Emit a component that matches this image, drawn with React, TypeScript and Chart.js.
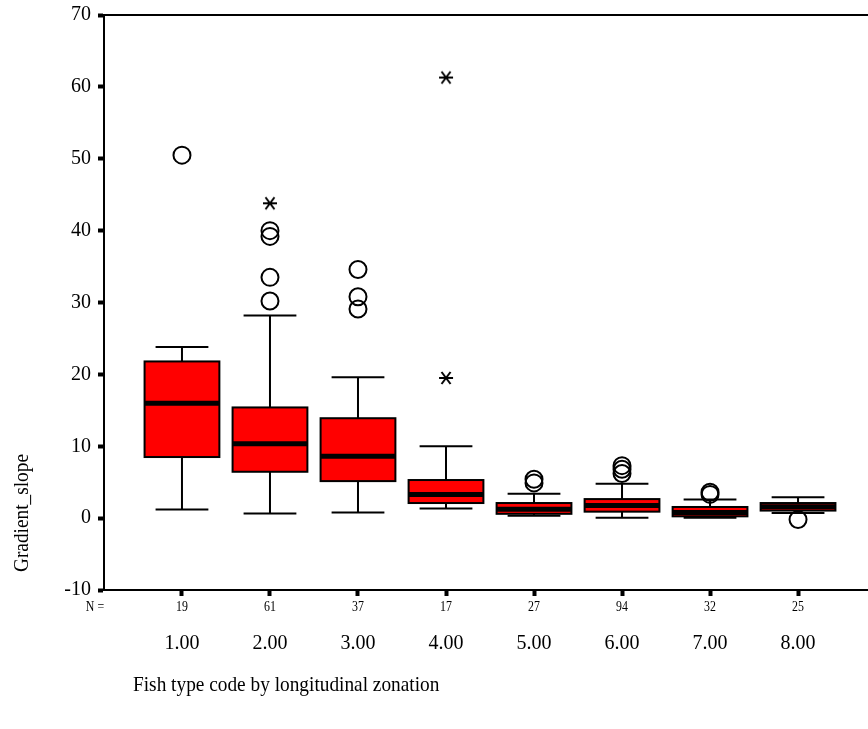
import React, { useEffect, useRef } from "react";
import { Chart, registerables } from "chart.js";

Chart.register(...registerables);

const categories = ["1.00", "2.00", "3.00", "4.00", "5.00", "6.00", "7.00", "8.00"];
const counts = [19, 61, 37, 17, 27, 94, 32, 25];
const whiskerLow = [1.2, 0.65, 0.8, 1.35, 0.33, 0.05, 0.05, 0.7];
const q1 = [8.5, 6.45, 5.15, 2.1, 0.6, 0.9, 0.25, 1.05];
const medians = [16.0, 10.35, 8.6, 3.3, 1.25, 1.74, 0.77, 1.6];
const q3 = [21.8, 15.4, 13.9, 5.3, 2.1, 2.65, 1.55, 2.1];
const whiskerHigh = [23.8, 28.2, 19.6, 10.0, 3.4, 4.8, 2.6, 2.9];

// outliers: [category index (1-based), value]
const circleOutliers: [number, number][] = [
  [1, 50.5],
  [2, 30.2], [2, 33.5], [2, 39.2], [2, 40.0],
  [3, 29.1], [3, 30.8], [3, 34.6],
  [5, 4.9], [5, 5.4],
  [6, 6.2], [6, 6.8], [6, 7.3],
  [7, 3.3], [7, 3.6],
  [8, -0.2],
];
const extremeOutliers: [number, number][] = [
  [2, 43.8],
  [4, 61.3], [4, 19.5],
];

const yTicks = [-10, 0, 10, 20, 30, 40, 50, 60, 70];
const xTitle = "Fish type code by longitudinal zonation";
const yTitle = "Gradient_slope";

const FONT = "'Liberation Serif', 'Times New Roman', serif";

function makeAsterisk(): HTMLCanvasElement {
  const c = document.createElement("canvas");
  c.width = 16;
  c.height = 16;
  const g = c.getContext("2d")!;
  g.strokeStyle = "#000";
  g.lineWidth = 2;
  g.beginPath();
  g.moveTo(1, 8);
  g.lineTo(15, 8);
  g.moveTo(3.5, 2);
  g.lineTo(12.5, 14);
  g.moveTo(12.5, 2);
  g.lineTo(3.5, 14);
  g.stroke();
  return c;
}

const boxPlugin = {
  id: "boxes",
  beforeDatasetsDraw(chart: any) {
    const { ctx, scales } = chart;
    const x = scales.x;
    const y = scales.y;
    ctx.save();
    for (let i = 0; i < categories.length; i++) {
      const c = i + 1;
      const xc = x.getPixelForValue(c);
      const xl = x.getPixelForValue(c - 0.425);
      const xr = x.getPixelForValue(c + 0.425);
      const cl = x.getPixelForValue(c - 0.3);
      const cr = x.getPixelForValue(c + 0.3);
      const yLo = y.getPixelForValue(whiskerLow[i]);
      const yHi = y.getPixelForValue(whiskerHigh[i]);
      const yQ1 = y.getPixelForValue(q1[i]);
      const yQ3 = y.getPixelForValue(q3[i]);
      const yMed = y.getPixelForValue(medians[i]);
      ctx.strokeStyle = "#000";
      ctx.lineWidth = 2;
      // whiskers
      ctx.beginPath();
      ctx.moveTo(xc, yHi);
      ctx.lineTo(xc, yQ3);
      ctx.moveTo(xc, yQ1);
      ctx.lineTo(xc, yLo);
      ctx.moveTo(cl, yHi);
      ctx.lineTo(cr, yHi);
      ctx.moveTo(cl, yLo);
      ctx.lineTo(cr, yLo);
      ctx.stroke();
      // box
      ctx.fillStyle = "#ff0000";
      ctx.fillRect(xl, yQ3, xr - xl, yQ1 - yQ3);
      ctx.strokeRect(xl, yQ3, xr - xl, yQ1 - yQ3);
      // median
      ctx.lineWidth = 5;
      ctx.beginPath();
      ctx.moveTo(xl, yMed);
      ctx.lineTo(xr, yMed);
      ctx.stroke();
    }
    ctx.restore();
  },
  afterDraw(chart: any) {
    const { ctx, scales, chartArea } = chart;
    const x = scales.x;
    ctx.save();
    // top frame line
    ctx.strokeStyle = "#000";
    ctx.lineWidth = 2;
    ctx.beginPath();
    ctx.moveTo(chartArea.left, chartArea.top);
    ctx.lineTo(chartArea.right, chartArea.top);
    ctx.stroke();
    // N labels
    ctx.fillStyle = "#000";
    ctx.textBaseline = "middle";
    ctx.textAlign = "center";
    ctx.font = `14px ${FONT}`;
    const drawSquished = (t: string, px: number, py: number, sx: number) => {
      ctx.save();
      ctx.translate(px, py);
      ctx.scale(sx, 1);
      ctx.fillText(t, 0, 0);
      ctx.restore();
    };
    drawSquished("N =", 95, 607, 0.85);
    counts.forEach((n, i) => {
      drawSquished(String(n), x.getPixelForValue(i + 1), 607, 0.85);
    });
    // x title
    ctx.font = `21px ${FONT}`;
    ctx.textAlign = "left";
    ctx.save();
    ctx.translate(133, 685);
    ctx.scale(0.92, 1);
    ctx.fillText(xTitle, 0, 0);
    ctx.restore();
    // y title
    ctx.save();
    ctx.translate(22, 513);
    ctx.rotate(-Math.PI / 2);
    ctx.textAlign = "center";
    ctx.scale(0.92, 1);
    ctx.fillText(yTitle, 0, 0);
    ctx.restore();
    ctx.restore();
  },
};

export default function App() {
  const ref = useRef<HTMLCanvasElement>(null);
  useEffect(() => {
    if (!ref.current) return;
    const asterisk = makeAsterisk();
    const chart = new Chart(ref.current, {
      type: "scatter",
      data: {
        datasets: [
          {
            label: "Outliers",
            data: circleOutliers.map(([c, v]) => ({ x: c, y: v })),
            pointStyle: "circle",
            pointRadius: 8.5,
            borderColor: "#000",
            borderWidth: 2,
            backgroundColor: "rgba(0,0,0,0)",
          },
          {
            label: "Extremes",
            data: extremeOutliers.map(([c, v]) => ({ x: c, y: v })),
            pointStyle: asterisk as any,
            pointRadius: 8,
            borderColor: "#000",
            backgroundColor: "#000",
          },
        ],
      },
      options: {
        animation: false,
        responsive: true,
        maintainAspectRatio: false,
        layout: { autoPadding: false, padding: { top: 15, right: 0, left: 0, bottom: 0 } },
        plugins: {
          legend: { display: false },
          tooltip: { enabled: false },
        },
        scales: {
          x: {
            type: "linear",
            min: 0.114,
            max: 8.795,
            afterBuildTicks: (s: any) => {
              s.ticks = categories.map((_, i) => ({ value: i + 1 }));
            },
            afterFit: (s: any) => {
              s.height = 139;
              s.paddingLeft = 0;
              s.paddingRight = 0;
            },
            ticks: {
              autoSkip: false,
              maxRotation: 0,
              padding: 36,
              color: "#000",
              font: { family: FONT, size: 20 },
              callback: (v: any) => categories[Math.round(Number(v)) - 1] ?? "",
            },
            grid: {
              drawOnChartArea: false,
              drawTicks: true,
              tickLength: 6,
              tickWidth: 4,
              tickColor: "#000",
            },
            border: { display: true, color: "#000", width: 2 },
          },
          y: {
            type: "linear",
            min: -10,
            max: 70,
            afterBuildTicks: (s: any) => {
              s.ticks = yTicks.map((v) => ({ value: v }));
            },
            afterFit: (s: any) => {
              s.width = 104;
              s.paddingTop = 0;
              s.paddingBottom = 0;
            },
            ticks: {
              padding: 7,
              color: "#000",
              font: { family: FONT, size: 20 },
            },
            grid: {
              drawOnChartArea: false,
              drawTicks: true,
              tickLength: 6,
              tickWidth: 4,
              tickColor: "#000",
            },
            border: { display: true, color: "#000", width: 2 },
          },
        },
      },
      plugins: [boxPlugin],
    });
    return () => chart.destroy();
  }, []);
  return (
    <div style={{ position: "fixed", left: 0, top: 0, width: 868, height: 729, background: "#fff" }}>
      <canvas ref={ref} />
    </div>
  );
}
